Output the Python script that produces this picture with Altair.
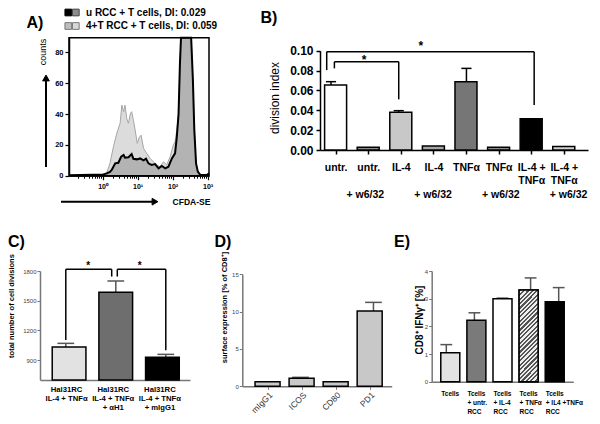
import json
import math
import altair as alt
import pandas as pd

FONT = "Liberation Sans"
W, H = 584, 408

# ---------------- A) CFDA-SE histograms (x in log10 units) ----------------
a_u_x = [-0.96, -0.64, -0.26, 0.02, 0.12, 0.21, 0.26, 0.36, 0.45, 0.53, 0.60, 0.64, 0.74, 0.83, 0.88,
         0.98, 1.07, 1.17, 1.24, 1.31, 1.40, 1.50, 1.60, 1.69, 1.79, 1.88, 1.98, 2.07, 2.12, 2.17,
         2.21, 2.24, 2.53, 2.58, 2.62, 2.67, 2.72, 2.79, 2.98, 3.04]
a_u_y = [0.3, 0.5, 0.6, 0.8, 1.5, 2.5, 3.7, 8.0, 8.4, 12.3, 13.4, 11.7, 12.0, 14.0, 11.0,
         10.6, 11.2, 10.0, 11.0, 8.0, 7.0, 7.5, 4.8, 6.3, 4.8, 5.8, 11.2, 14.5, 25, 40,
         73, 89.5, 89.5, 62, 30, 8, 2.6, 0.5, 0.4, 1.5]
a_t_x = [-0.96, -0.64, -0.26, 0.02, 0.12, 0.21, 0.31, 0.40, 0.50, 0.55, 0.60, 0.64, 0.69, 0.74, 0.79,
         0.83, 0.88, 0.93, 0.99, 1.05, 1.10, 1.17, 1.26, 1.36, 1.45, 1.55, 1.64, 1.74, 1.83, 1.93,
         2.02, 2.07, 2.12, 2.17, 2.21, 2.24, 2.53, 2.58, 2.62, 2.67, 2.72, 2.79, 2.98, 3.04]
a_t_y = [0.3, 0.5, 0.6, 0.8, 2.0, 8.0, 18.8, 27.0, 34.0, 45.8, 41.5, 45.8, 37.0, 34.0, 40.0,
         41.5, 36.0, 29.6, 21.0, 25.0, 26.3, 17.7, 14.5, 11.2, 9.0, 7.0, 5.8, 9.0, 7.0, 12.3,
         20.0, 22.0, 29.6, 40, 73, 89.5, 89.5, 62, 30, 8, 2.6, 0.5, 0.4, 1.5]
a_tick_vals = [0, 1, 2, 3]
a_tick_labels = ["10⁰", "10¹", "10²", "10³"]
a_minor_mult = [2, 3, 4, 5, 6, 7, 8, 9]
a_y_ticks = [0, 20, 40, 60, 80]
a_legend = ["u RCC + T cells, DI: 0.029", "4+T RCC + T cells, DI: 0.059"]

# ---------------- B) division index ----------------
b_labels = [["untr."], ["untr."], ["IL-4"], ["IL-4"],
            ["TNFα"], ["TNFα"], ["IL-4 +", "TNFα"], ["IL-4 +", "TNFα"]]
b_sub_idx = [1, 3, 5, 7]
b_sub_label = "+ w6/32"
b_mean = [0.0654, 0.0027, 0.038, 0.004, 0.0688, 0.0027, 0.0315, 0.0034]
b_err = [0.0688, 0.0027, 0.0396, 0.004, 0.0822, 0.0027, 0.0315, 0.0034]
b_colors = ["#ffffff", "#8a8a8a", "#c8c8c8", "#a5a5a5", "#767676", "#8a8a8a", "#000000", "#d2d2d2"]
b_y_ticks = [0, 0.02, 0.04, 0.06, 0.08, 0.10]
b_brk_left = [-0.127, 0.1]
b_brk_right = [6.0, 2.0]
b_brk_top = [0.099, 0.0889]
b_brk_left_end = [0.0805, 0.0822]
b_brk_right_end = [0.0453, 0.051]
b_star_x = [2.65, 0.975]
b_star_y = [0.1074, 0.0933]

# ---------------- C) total number of cell divisions ----------------
c_labels = [["Hal31RC", "IL-4 + TNFα"], ["Hal31RC", "IL-4 + TNFα", "+ αH1"],
            ["Hal31RC", "IL-4 + TNFα", "+ mIgG1"]]
c_mean = [1032, 1585, 928]
c_err = [1069, 1699, 958]
c_colors = ["#e2e2e2", "#6e6e6e", "#000000"]
c_y_ticks = [900, 1200, 1500, 1800]
c_brk_left = [0.0, 1.03]
c_brk_right = [0.918, 2.0]
c_brk_top = [1817, 1817]
c_brk_left_end = [1103, 1744]
c_brk_right_end = [1744, 1000]
c_star_x = [0.45, 1.48]
c_star_y = [1884, 1884]

# ---------------- D) surface expression ----------------
d_labels = ["mIgG1", "ICOS", "CD80", "PD1"]
d_mean = [0.62, 1.07, 0.62, 10.08]
d_err = [0.62, 1.2, 0.62, 11.24]
d_colors = ["#c8c8c8", "#c8c8c8", "#c8c8c8", "#c8c8c8"]
d_y_ticks = [0, 5, 10, 15]

# ---------------- E) CD8+ IFNγ+ ----------------
e_labels = [["Tcells"], ["Tcells", "+ untr.", "RCC"], ["Tcells", "+ IL-4", "RCC"],
            ["Tcells", "+ TNFα", "RCC"], ["Tcells", "+ IL4 +TNFα", "RCC"]]
e_mean = [1.05, 2.22, 3.0, 3.31, 2.89]
e_err = [1.34, 2.49, 3.02, 3.75, 3.4]
e_colors = ["#e2e2e2", "#7a7a7a", "#ffffff", "#a0a0a0", "#000000"]
e_y_ticks = [0, 1, 2, 3, 4]
e_hatched = [3]

ONE = pd.DataFrame({"k": [0]})
L = []


def sc(domain, rng):
    return alt.Scale(domain=domain, range=rng, nice=False, zero=False)


def lab_expr(labels):
    return json.dumps(labels, ensure_ascii=False) + "[round(datum.value)]"


def txt(s, x, y, size, weight="normal", angle=0, align="center", baseline="middle", color="black", dy=0):
    kw = dict(fontSize=size, fontWeight=weight, align=align, baseline=baseline, color=color, font=FONT)
    if angle:
        kw["angle"] = angle
    if dy:
        kw["dy"] = dy
    return alt.Chart(pd.DataFrame({"t": [s]})).mark_text(**kw).encode(
        x=alt.value(x), y=alt.value(y), text="t:N")


def seg(x1, y1, x2, y2, color="black", width=2):
    return alt.Chart(ONE).mark_rule(color=color, strokeWidth=width).encode(
        x=alt.value(x1), x2=alt.value(x2), y=alt.value(y1), y2=alt.value(y2))


def sym(shape, x, y, size, fill, stroke=None):
    kw = dict(shape=shape, size=size, fill=fill, filled=True, opacity=1, strokeWidth=1)
    kw["stroke"] = stroke if stroke else fill
    return alt.Chart(ONE).mark_point(**kw).encode(x=alt.value(x), y=alt.value(y))


def bar_panel(means, errs, colors, sx, sy, base, bar_w, cap_half, xaxis, yaxis, err_color, stem_axis=None):
    n = len(means)
    cats = ["c%d" % i for i in range(n)]
    df = pd.DataFrame({"i": list(range(n)), "cat": cats, "mean": means, "err": errs})
    errdf = df[df["err"] > df["mean"]]
    stem = alt.Chart(errdf).mark_rule(color=err_color, strokeWidth=1.5).encode(
        x=alt.X("i:Q", scale=sx, axis=stem_axis), y=alt.Y("mean:Q", scale=sy, axis=None), y2="err:Q")
    cap = alt.Chart(errdf).transform_calculate(
        lo="datum.i - %f" % cap_half, hi="datum.i + %f" % cap_half
    ).mark_rule(color=err_color, strokeWidth=1.5).encode(
        x=alt.X("lo:Q", scale=sx, axis=None), x2="hi:Q", y=alt.Y("err:Q", scale=sy, axis=None))
    bars = alt.Chart(df).mark_bar(width=bar_w, stroke="black", strokeWidth=1.5).encode(
        x=alt.X("i:Q", scale=sx, axis=xaxis),
        y=alt.Y("mean:Q", scale=sy, axis=yaxis),
        y2=alt.Y2Datum(base),
        fill=alt.Fill("cat:N", scale=alt.Scale(domain=cats, range=colors), legend=None))
    return [stem, cap, bars], df


def brackets(lefts, rights, tops, lends, rends, sx, sy):
    rows = []
    for l, r, t, le, re in zip(lefts, rights, tops, lends, rends):
        rows += [dict(x=l, x2=l, y=t, y2=le), dict(x=l, x2=r, y=t, y2=t), dict(x=r, x2=r, y=t, y2=re)]
    return alt.Chart(pd.DataFrame(rows)).mark_rule(color="black", strokeWidth=1.5).encode(
        x=alt.X("x:Q", scale=sx, axis=None), x2="x2:Q",
        y=alt.Y("y:Q", scale=sy, axis=None), y2="y2:Q")


def stars(xs, ys, sx, sy, size, dy):
    return alt.Chart(pd.DataFrame({"x": xs, "y": ys})).mark_text(
        text="*", fontSize=size, fontWeight="bold", font=FONT, dy=dy).encode(
        x=alt.X("x:Q", scale=sx, axis=None), y=alt.Y("y:Q", scale=sy, axis=None))


common_axis = dict(title=None, grid=False, labelFlush=False, labelOverlap=False, labelFont=FONT)

# ================= Panel A =================
sxA = sc([-0.96, 3.04], [61, 201])
syA = sc([0, 89.5], [167.7, 29.7])
axA_x = alt.Axis(orient="bottom", offset=-(H - 167.7), values=a_tick_vals, labelExpr=lab_expr(a_tick_labels),
                 tickSize=4, tickWidth=1.2, tickColor="black", domainColor="black", domainWidth=1.5,
                 labelFontSize=7, labelFontWeight="bold", labelColor="black", labelPadding=3, **common_axis)
axA_y = alt.Axis(orient="left", offset=-61, values=a_y_ticks, tickSize=4, tickWidth=1.2, tickColor="black",
                 domainColor="black", domainWidth=1.5, labelFontSize=7.5, labelFontWeight="bold",
                 labelColor="black", labelPadding=2, **common_axis)
minor_vals = []
for d in [-1, 0, 1, 2]:
    for m in a_minor_mult:
        v = math.log10(m * 10 ** d)
        if -0.96 <= v <= 3.04:
            minor_vals.append(v)
axA_minor = alt.Axis(orient="bottom", offset=-(H - 167.7), values=minor_vals, labels=False, domain=False,
                     tickSize=2.5, tickWidth=1, tickColor="black", **common_axis)

dfT = pd.DataFrame({"x": a_t_x, "y": a_t_y})
dfU = pd.DataFrame({"x": a_u_x, "y": a_u_y})
L.append(alt.Chart(dfT).mark_area(color="#dcdcdc", stroke="#a6a6a6", strokeWidth=1).encode(
    x=alt.X("x:Q", scale=sxA, axis=axA_x), y=alt.Y("y:Q", scale=syA, axis=axA_y)))
L.append(alt.Chart(dfU).mark_area(color="#b3b3b3").encode(
    x=alt.X("x:Q", scale=sxA, axis=axA_minor), y=alt.Y("y:Q", scale=syA, axis=None)))
L.append(alt.Chart(dfU).mark_line(color="black", strokeWidth=2).encode(
    x=alt.X("x:Q", scale=sxA, axis=None), y=alt.Y("y:Q", scale=syA, axis=None)))
L.append(alt.Chart(ONE).mark_rect(fillOpacity=0, stroke="black", strokeWidth=1.5).encode(
    x=alt.XDatum(-0.96, scale=sxA, axis=None), x2=alt.X2Datum(3.04),
    y=alt.YDatum(0, scale=syA, axis=None), y2=alt.Y2Datum(89.5)))

# legend of A
L.append(sym("square", 60.3, 4.5, 45, "#000000", "#000000"))
L.append(sym("square", 67.8, 4.5, 45, "#8c8c8c", "#444444"))
L.append(sym("square", 60.3, 18, 45, "#bdbdbd", "#777777"))
L.append(sym("square", 67.8, 18, 45, "#d8d8d8", "#777777"))
L.append(txt(a_legend[0], 78, 4.5, 10, "bold", align="left"))
L.append(txt(a_legend[1], 78, 18, 10, "bold", align="left"))
L.append(txt("A)", 27, 15, 16, "bold"))
L.append(txt("counts", 35, 44, 9, angle=270))
L.append(txt("CFDA-SE", 183.5, 194, 8.5, "bold"))
# axis arrows
L.append(seg(38, 159, 38, 71, width=2))
L.append(sym("triangle-up", 38, 70, 45, "black"))
L.append(seg(53, 193.7, 146, 193.7, width=2))
L.append(sym("triangle-right", 147, 193.7, 45, "black"))

# ================= Panel B =================
sxB = sc([-0.325, 7.59], [312, 580])
syB = sc([0, 0.1], [142, 42.7])
axB_x = alt.Axis(orient="bottom", offset=142 - H, values=list(range(8)), labelExpr=lab_expr(b_labels),
                 tickSize=4, tickWidth=1.5, tickColor="black", domainColor="black", domainWidth=1.5,
                 labelFontSize=10.5, labelFontWeight="bold", labelColor="black", labelPadding=8,
                 labelLineHeight=13.5, **common_axis)
axB_sub = alt.Axis(orient="bottom", offset=142 - H, values=b_sub_idx, labelExpr="'%s'" % b_sub_label,
                   ticks=False, tickSize=0, domain=False, labelFontSize=10.5, labelFontWeight="bold",
                   labelColor="black", labelPadding=39, **common_axis)
axB_y = alt.Axis(orient="left", offset=-312, values=b_y_ticks, format=".2f", tickSize=4, tickWidth=1.5,
                 tickColor="black", domainColor="black", domainWidth=1.5, labelFontSize=12,
                 labelFontWeight="bold", labelColor="black", labelPadding=3, **common_axis)
lay, _ = bar_panel(b_mean, b_err, b_colors, sxB, syB, 0, 22, 0.15, axB_x, axB_y, "black", stem_axis=axB_sub)
L += lay
L.append(brackets(b_brk_left, b_brk_right, b_brk_top, b_brk_left_end, b_brk_right_end, sxB, syB))
L.append(stars(b_star_x, b_star_y, sxB, syB, 12, 3))
L.append(txt("B)", 261, 10, 16, "bold"))
L.append(txt("division index", 267, 90, 12, angle=270))

# ================= Panel C =================
sxC = sc([-0.516, 2.484], [32, 182])
syC = sc([700, 1800], [371.9, 263])
axC_x = alt.Axis(orient="bottom", offset=371.9 - H, values=[0, 1, 2], labelExpr=lab_expr(c_labels),
                 ticks=False, domainColor="#777777", domainWidth=1.5, labelFontSize=7.7,
                 labelFontWeight="bold", labelColor="black", labelPadding=6, labelLineHeight=9,
                 labelOffset=-3, **common_axis)
axC_y = alt.Axis(orient="left", offset=-32, values=c_y_ticks, format="d", tickSize=3, tickColor="#777777",
                 domainColor="#777777", domainWidth=1.5, labelFontSize=6, labelColor="#444444",
                 labelPadding=1, **common_axis)
lay, _ = bar_panel(c_mean, c_err, c_colors, sxC, syC, 700, 33.7, 0.167, axC_x, axC_y, "#555555")
L += lay
L.append(brackets(c_brk_left, c_brk_right, c_brk_top, c_brk_left_end, c_brk_right_end, sxC, syC))
L.append(stars(c_star_x, c_star_y, sxC, syC, 10, 3))
L.append(txt("C)", 0, 234, 16, "bold", align="left"))
L.append(txt("total number of cell divisions", 4, 298, 7.5, "bold", angle=270))

# ================= Panel D =================
sxD = sc([-0.595, 3.5], [234.3, 383.7])
syD = sc([0, 15], [378.3, 266.3])
axD_x = alt.Axis(orient="bottom", offset=378.3 - H, values=[0, 1, 2, 3], labelExpr=lab_expr(d_labels),
                 tickSize=3, tickColor="#777777", domainColor="#777777", domainWidth=1.5,
                 labelFontSize=8.5, labelColor="#333333", labelAngle=315, labelAlign="right",
                 labelBaseline="top", labelPadding=1, **common_axis)
axD_y = alt.Axis(orient="left", offset=-234.3, values=d_y_ticks, tickSize=3, tickColor="#777777",
                 domainColor="#777777", domainWidth=1.5, labelFontSize=6, labelColor="#444444",
                 labelPadding=1, **common_axis)
lay, _ = bar_panel(d_mean, d_err, d_colors, sxD, syD, 0, 25, 0.23, axD_x, axD_y, "#555555")
L += lay
L.append(txt("D)", 215, 234, 16, "bold"))
L.append(txt("surface expression [% of CD8⁺]", 217, 299.5, 7.5, "bold", angle=270))

# ================= Panel E =================
sxE = sc([-0.52, 4.52], [423.7, 565.3])
syE = sc([0, 4], [373.7, 263])
axE_x = alt.Axis(orient="bottom", offset=373.7 - H, values=[0, 1, 2, 3, 4], labelExpr=lab_expr(e_labels),
                 ticks=False, domainColor="#777777", domainWidth=1.5, labelFontSize=6.5,
                 labelFontWeight="bold", labelColor="black", labelPadding=9, labelLineHeight=8.8,
                 labelAlign="left", labelOffset=-9.5, **common_axis)
axE_y = alt.Axis(orient="left", offset=-423.7, values=e_y_ticks, tickSize=3, tickColor="#777777",
                 domainColor="#777777", domainWidth=1.5, labelFontSize=6, labelColor="#444444",
                 labelPadding=1, **common_axis)
lay, dfE = bar_panel(e_mean, e_err, e_colors, sxE, syE, 0, 19, 0.21, axE_x, axE_y, "#555555")
L += lay
N = 26
stops = []
for k in range(N):
    a, b, c = k / N, (k + 0.5) / N, (k + 1) / N
    stops += [dict(offset=a, color="#555555"), dict(offset=b, color="#555555"),
              dict(offset=b, color="#ededed"), dict(offset=c, color="#ededed")]
hatch = {"gradient": "linear", "x1": 0, "y1": 0, "x2": 0.25, "y2": 1.2, "stops": stops}
L.append(alt.Chart(dfE[dfE["i"].isin(e_hatched)]).mark_bar(
    width=19, fill=hatch, stroke="black", strokeWidth=1.5).encode(
    x=alt.X("i:Q", scale=sxE, axis=None), y=alt.Y("mean:Q", scale=syE, axis=None), y2=alt.Y2Datum(0)))
L.append(txt("E)", 394, 234, 16, "bold"))
L.append(txt("CD8⁺ IFNγ⁺ [%]", 412, 312, 10, "bold", angle=270))

chart = alt.layer(*L).resolve_scale(
    x="independent", y="independent", fill="independent"
).properties(
    width=W, height=H, autosize=alt.AutoSizeParams(type="none"), padding=0, background="white"
).configure_view(stroke=None).configure_axis(grid=False)

chart.save("out.html", embed_options={"renderer": "svg", "actions": False})
